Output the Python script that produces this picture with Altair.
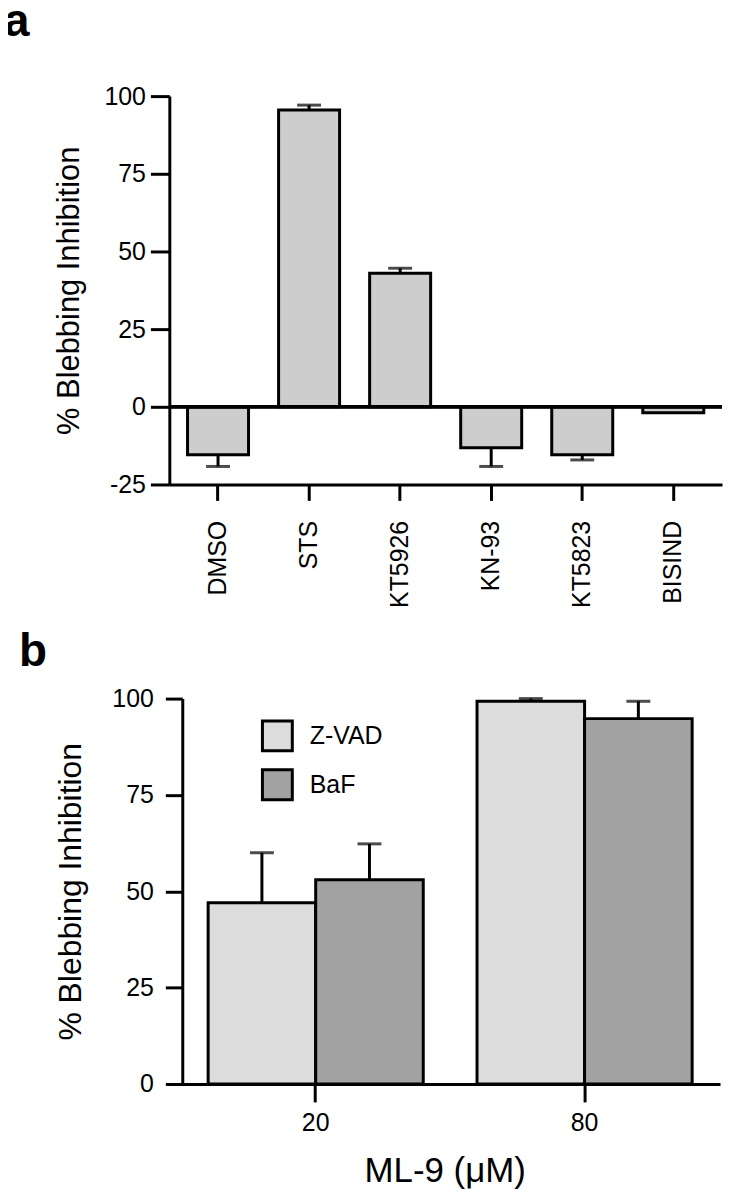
import altair as alt
import pandas as pd

FONT = "Liberation Sans"

# ---------------- Panel a data ----------------
cats_a = ["DMSO", "STS", "KT5926", "KN-93", "KT5823", "BISIND"]
vals_a = [-15.4, 95.5, 43.0, -13.2, -15.4, -1.9]
errend_a = [-19.2, 97.1, 44.6, -19.2, -17.1, None]
ticks_a = [-25, 0, 25, 50, 75, 100]

# ---------------- Panel b data ----------------
doses_b = ["20", "80"]
series_b = ["Z-VAD", "BaF"]
dose_col = ["20", "20", "80", "80"]
series_col = ["Z-VAD", "BaF", "Z-VAD", "BaF"]
vals_b = [47.0, 53.0, 99.3, 94.8]
errend_b = [60.0, 62.3, 100.0, 99.3]
ticks_b = [0, 25, 50, 75, 100]

ax_common = dict(domainColor="black", domainWidth=3, tickColor="black", tickWidth=3,
                 labelColor="black", titleColor="black", labelFont=FONT, titleFont=FONT,
                 grid=False)

# ---------------- Panel a ----------------
df_a = pd.DataFrame({"cat": cats_a, "val": vals_a, "err": errend_a})

xa = alt.X("cat:N", sort=cats_a, title=None,
           scale=alt.Scale(paddingInner=0.33, paddingOuter=0.2),
           axis=alt.Axis(labelAngle=-90, labelFontSize=25, labelPadding=20, tickSize=16,
                         **ax_common))


def ya(field):
    return alt.Y(field, scale=alt.Scale(domain=[-25, 100], nice=False, zero=False),
                 title="% Blebbing Inhibition",
                 axis=alt.Axis(values=ticks_a, titleFontSize=31, titleFontWeight="normal",
                               titlePadding=18, labelFontSize=25, labelPadding=5, tickSize=19,
                               labelExpr="replace(datum.label, '\u2212', '-')",
                               **ax_common))


base_a = alt.Chart(df_a)
bars_a = base_a.mark_bar(fill="#cdcdcd", stroke="black", strokeWidth=3).encode(
    x=xa, y=ya("val:Q"), y2=alt.datum(0))
err_a = base_a.transform_filter("datum.err != null").mark_rule(color="black", strokeWidth=3).encode(
    x=xa, y=ya("val:Q"), y2="err:Q")
cap_a = base_a.transform_filter("datum.err != null").mark_tick(
    color="black", thickness=3, size=24, orient="horizontal").encode(x=xa, y=ya("err:Q"))
zero_a = base_a.mark_rule(color="black", strokeWidth=3).encode(y=alt.datum(0))
letter_a = alt.Chart(pd.DataFrame({"lab": ["a"]})).mark_text(
    align="left", baseline="alphabetic", font=FONT, fontSize=46, fontWeight="bold",
    color="black").encode(text="lab:N", x=alt.value(-166), y=alt.value(-60))
# invisible anchor that fixes the layout bounds (top-left corner)
anchor_a = alt.Chart(pd.DataFrame({"lab": ["a"]})).mark_rule(opacity=0, strokeWidth=1).encode(
    x=alt.value(-200), x2=alt.value(-190), y=alt.value(-120))

chart_a = alt.layer(bars_a, err_a, cap_a, zero_a, letter_a, anchor_a).properties(
    width=555, height=390)

# ---------------- Panel b ----------------
df_b = pd.DataFrame({"dose": dose_col, "series": series_col, "val": vals_b, "err": errend_b})

xb = alt.X("dose:N", sort=doses_b, title="ML-9 (μM)",
           scale=alt.Scale(paddingInner=0.2, paddingOuter=0.124, align=0.582),
           axis=alt.Axis(labelAngle=0, labelFontSize=25, labelPadding=9, tickSize=18,
                         titleFontSize=35, titleFontWeight="normal", titlePadding=18,
                         **ax_common))
xob = alt.XOffset("series:N", sort=series_b, scale=alt.Scale(paddingInner=0, paddingOuter=0))


def yb(field):
    return alt.Y(field, scale=alt.Scale(domain=[0, 100], nice=False),
                 title="% Blebbing Inhibition",
                 axis=alt.Axis(values=ticks_b, titleFontSize=32, titleFontWeight="normal",
                               titlePadding=24, labelFontSize=25, labelPadding=12, tickSize=17,
                               offset=-13, **ax_common))


color_b = alt.Color("series:N", sort=series_b,
                    scale=alt.Scale(domain=series_b, range=["#dcdcdc", "#a2a2a2"]),
                    legend=alt.Legend(title=None, orient="none", legendX=92, legendY=21,
                                      symbolType="square", symbolSize=900,
                                      symbolStrokeColor="black", symbolStrokeWidth=3,
                                      labelFontSize=25, labelFont=FONT, labelColor="black",
                                      labelOffset=16, rowPadding=6, padding=0))

base_b = alt.Chart(df_b)
bars_b = base_b.mark_bar(stroke="black", strokeWidth=3).encode(
    x=xb, xOffset=xob, y=yb("val:Q"), y2=alt.datum(0), color=color_b)
err_b = base_b.mark_rule(color="black", strokeWidth=3).encode(
    x=xb, xOffset=xob, y=yb("val:Q"), y2="err:Q")
cap_b = base_b.mark_tick(color="black", thickness=3, size=24, orient="horizontal").encode(
    x=xb, xOffset=xob, y=yb("err:Q"))
letter_b = alt.Chart(pd.DataFrame({"lab": ["b"]})).mark_text(
    align="left", baseline="alphabetic", font=FONT, fontSize=46, fontWeight="bold",
    color="black").encode(text="lab:N", x=alt.value(-151), y=alt.value(-33))

chart_b = alt.layer(bars_b, err_b, cap_b, letter_b).properties(width=553, height=387)

chart = alt.vconcat(chart_a, chart_b, spacing=21).resolve_legend(
    color="independent"
).properties(
    padding={"left": -38, "top": -34, "right": 0, "bottom": 0}
).configure_view(stroke=None)

chart.save("out.html", embed_options={"renderer": "svg", "actions": False})
